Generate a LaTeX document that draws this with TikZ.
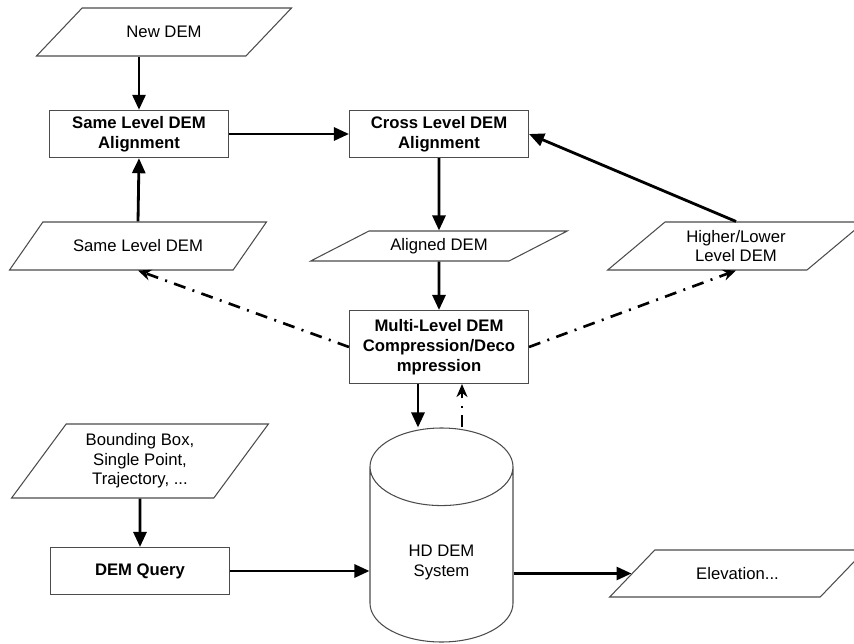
\documentclass[tikz,border=0pt]{standalone}
\usepackage{fontspec}
\setmainfont{Liberation Sans}
\usetikzlibrary{arrows.meta,shapes.geometric}

\begin{document}
\begin{tikzpicture}[>={Triangle[length=3mm, width=2.6mm]},
  every node/.style={font=\fontsize{9.5}{11}\selectfont, align=center},
  proc/.style={draw=black!70, line width=0.6pt, minimum width=3.58cm, minimum height=0.94cm,
    font=\fontsize{9.5}{11.4}\selectfont\bfseries},
  data/.style={trapezium, trapezium stretches=true, draw=black!70, line width=0.6pt,
    minimum width=5.14cm, trapezium left angle=#1, trapezium right angle=180-#1},
  flow/.style={->, line width=1.6pt},
  back/.style={-{Stealth[length=2.6mm, width=2.2mm]}, line width=1.5pt,
    dash pattern=on 2.4mm off 1.5mm on 0.4mm off 1.5mm}]
  \useasboundingbox (0, 0) rectangle (17.08, 12.86);
  % inputs and steps
  \node[data=44, minimum height=0.96cm] (newdem) at (3.28, 12.22) {New DEM};
  \node[proc] (same) at (2.78, 10.18) {Same Level DEM\\Alignment};
  \node[proc] (cross) at (8.78, 10.18) {Cross Level DEM\\Alignment};
  \node[data=44, minimum height=0.96cm] (samedem) at (2.76, 7.94) {Same Level DEM};
  \node[data=31, minimum height=0.6cm] (aligned) at (8.78, 7.94) {Aligned DEM};
  \node[data=44, minimum height=0.96cm] (hl) at (14.72, 7.94) {Higher/Lower\\Level DEM};
  \node[proc, minimum height=1.46cm] (multi) at (8.78, 5.92) {Multi-Level DEM\\Compression/Deco\\mpression};
  \node[cylinder, shape border rotate=90, aspect=1, draw=black!70, line width=0.6pt,
    minimum width=2.86cm, minimum height=4.28cm, anchor=shape center] (db) at (8.83, 2.16) {HD DEM\\System};
  \node[data=56, minimum height=1.48cm] (bbox) at (2.80, 3.64) {Bounding Box,\\Single Point,\\Trajectory, ...};
  \node[proc] (query) at (2.80, 1.44) {DEM Query};
  \node[data=43, minimum height=0.94cm] (elev) at (14.75, 1.39) {Elevation...};
  % connectors
  \draw[flow] (same.north |- newdem.south) -- (same.north);
  \draw[flow] (samedem.north) -- (same.south);
  \draw[flow] (same.east) -- (cross.west);
  \draw[flow] (cross.south) -- (aligned.north);
  \draw[flow] (aligned.south) -- (multi.north);
  \draw[flow] (hl.north) -- (cross.east);
  \draw[back] (multi.west) -- (samedem.south);
  \draw[back] (multi.east) -- (hl.south);
  \draw[flow] ([xshift=-0.42cm]multi.south) -- ([xshift=-0.42cm]multi.south |- db.north);
  \draw[back] ([xshift=0.46cm]multi.south |- db.north) -- ([xshift=0.46cm]multi.south);
  \draw[flow] (bbox.south) -- (query.north);
  \draw[flow] (query.east) -- (query.east -| db.west);
  \draw[flow] (elev.west -| db.east) -- (elev.west);
\end{tikzpicture}
\end{document}
